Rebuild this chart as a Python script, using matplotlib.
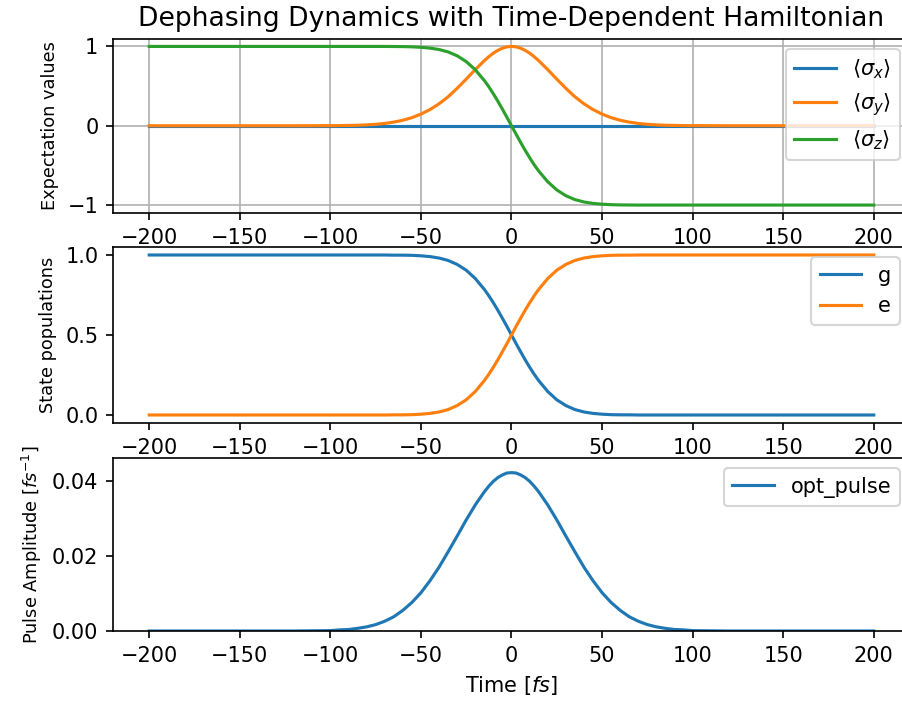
import numpy as np
import matplotlib
matplotlib.use("Agg")
import matplotlib.pyplot as plt

# time grid [fs]
time_fs = [-200, -180, -160, -140, -120, -100,
           -95, -90, -85, -80, -75, -70, -65, -60, -55, -50, -45, -40, -35, -30,
           -25, -20, -15, -12.5, -10, -7.5, -5, -2.5, 0, 2.5, 5, 7.5, 10, 12.5, 15,
           20, 25, 30, 35, 40, 45,
           50, 55, 60, 65, 70, 75, 80, 85, 90, 95,
           100, 120, 140, 160, 180, 200]

# Bloch vector components
sigma_x = [0.0, 0.0, 0.0, 0.0, 0.0, 0.0,
           0.0, 0.0, 0.0, 0.0, 0.0, 0.0, 0.0, 0.0, 0.0, 0.0, 0.0, 0.0, 0.0, 0.0,
           0.0, 0.0, 0.0, 0.0, 0.0, 0.0, 0.0, 0.0, 0.0, 0.0, 0.0, 0.0, 0.0, 0.0, 0.0,
           0.0, 0.0, 0.0, 0.0, 0.0, 0.0,
           0.0, 0.0, 0.0, 0.0, 0.0, 0.0, 0.0, 0.0, 0.0, 0.0,
           0.0, 0.0, 0.0, 0.0, 0.0, 0.0]
sigma_y = [0.0, 0.0, 0.0, 0.0, 0.0, 0.001,
           0.002, 0.004, 0.006, 0.011, 0.018, 0.029, 0.046, 0.069, 0.102, 0.147,
           0.204, 0.277, 0.365, 0.472,
           0.588, 0.708, 0.821, 0.871, 0.916, 0.951, 0.978, 0.995, 1.0,
           0.995, 0.978, 0.951, 0.916, 0.871, 0.821,
           0.708, 0.588, 0.472, 0.365, 0.277, 0.204,
           0.147, 0.102, 0.069, 0.046, 0.029, 0.018, 0.011, 0.006, 0.004, 0.002,
           0.001, 0.0, 0.0, 0.0, 0.0, 0.0]
sigma_z = [1.0, 1.0, 1.0, 1.0, 1.0, 1.0,
           1.0, 1.0, 1.0, 1.0, 1.0, 1.0, 0.999, 0.998, 0.995, 0.989, 0.979, 0.961,
           0.931, 0.882,
           0.809, 0.706, 0.570, 0.491, 0.402, 0.308, 0.208, 0.105, 0.0,
           -0.105, -0.208, -0.308, -0.402, -0.491, -0.570,
           -0.706, -0.809, -0.882, -0.931, -0.961, -0.979,
           -0.989, -0.995, -0.998, -0.999, -1.0, -1.0, -1.0, -1.0, -1.0, -1.0,
           -1.0, -1.0, -1.0, -1.0, -1.0, -1.0]

# populations
pop_g = [1.0, 1.0, 1.0, 1.0, 1.0, 1.0,
         1.0, 1.0, 1.0, 1.0, 1.0, 1.0, 0.999, 0.999, 0.998, 0.995, 0.990, 0.981,
         0.966, 0.941,
         0.905, 0.853, 0.785, 0.745, 0.701, 0.654, 0.604, 0.553, 0.5,
         0.447, 0.396, 0.346, 0.299, 0.255, 0.215,
         0.147, 0.095, 0.059, 0.034, 0.019, 0.010,
         0.005, 0.002, 0.001, 0.001, 0.0, 0.0, 0.0, 0.0, 0.0, 0.0,
         0.0, 0.0, 0.0, 0.0, 0.0, 0.0]
pop_e = [0.0, 0.0, 0.0, 0.0, 0.0, 0.0,
         0.0, 0.0, 0.0, 0.0, 0.0, 0.0, 0.001, 0.001, 0.002, 0.005, 0.010, 0.019,
         0.034, 0.059,
         0.095, 0.147, 0.215, 0.255, 0.299, 0.346, 0.396, 0.447, 0.5,
         0.553, 0.604, 0.654, 0.701, 0.745, 0.785,
         0.853, 0.905, 0.941, 0.966, 0.981, 0.990,
         0.995, 0.998, 0.999, 0.999, 1.0, 1.0, 1.0, 1.0, 1.0, 1.0,
         1.0, 1.0, 1.0, 1.0, 1.0, 1.0]

# optical pulse [1/fs]
opt_pulse = [0.0, 0.0, 0.0, 0.0, 0.0, 0.0001,
             0.0003, 0.0004, 0.0007, 0.0011, 0.0017, 0.0026, 0.0038, 0.0055, 0.0076,
             0.0102, 0.0134, 0.0170, 0.0211, 0.0253,
             0.0296, 0.0336, 0.0371, 0.0386, 0.0399, 0.0409, 0.0416, 0.0421, 0.0422,
             0.0421, 0.0416, 0.0409, 0.0399, 0.0386, 0.0371,
             0.0336, 0.0296, 0.0253, 0.0211, 0.0170, 0.0134,
             0.0102, 0.0076, 0.0055, 0.0038, 0.0026, 0.0017, 0.0011, 0.0007, 0.0004,
             0.0003,
             0.0001, 0.0, 0.0, 0.0, 0.0, 0.0]

W, H, DPI = 902, 708, 150
fig = plt.figure(figsize=(W / DPI, H / DPI), dpi=DPI)

def px_axes(top, bottom, left=113, right=910):
    return fig.add_axes([left / W, (H - bottom) / H, (right - left) / W, (bottom - top) / H])

ax1 = px_axes(38.5, 213)
ax2 = px_axes(247, 423)
ax3 = px_axes(458, 631)

ax1.plot(time_fs, sigma_x, label=r'$\langle\sigma_x\rangle$')
ax1.plot(time_fs, sigma_y, label=r'$\langle\sigma_y\rangle$')
ax1.plot(time_fs, sigma_z, label=r'$\langle\sigma_z\rangle$')
ax1.set_ylabel('Expectation values', fontsize=8.5)
ax1.set_title('Dephasing Dynamics with Time-Dependent Hamiltonian', fontsize=12.8)
ax1.grid(True)
ax1.legend(loc='upper right')

ax2.plot(time_fs, pop_g, label='g')
ax2.plot(time_fs, pop_e, label='e')
ax2.set_ylabel('State populations', fontsize=8.5)
ax2.legend(loc='upper right')

ax3.plot(time_fs, opt_pulse, label='opt_pulse')
ax3.set_ylabel(r'Pulse Amplitude [$fs^{-1}$]', fontsize=8.5)
ax3.set_xlabel(r'Time [$fs$]')
ax3.set_ylim(0, 0.0461)
ax3.legend(loc='upper right')

for ax in (ax1, ax2, ax3):
    ax.set_xlim(-220, 220)

fig.savefig('out.png', dpi=DPI)
